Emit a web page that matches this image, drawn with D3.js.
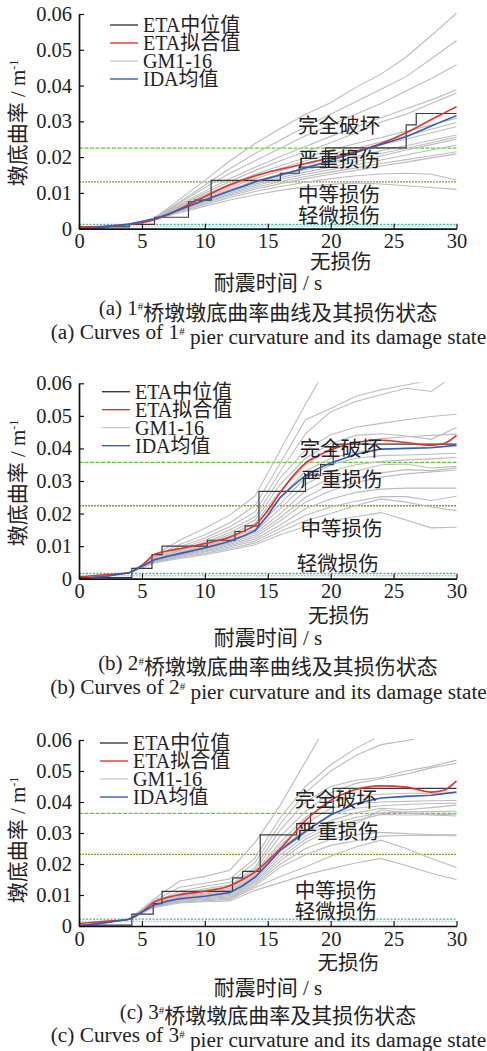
<!DOCTYPE html>
<html>
<head>
<meta charset="utf-8">
<script src="https://cdn.jsdelivr.net/npm/d3@7"></script>
<style>
  body { margin: 0; background: #fff; }
  text { font-family: "Liberation Serif", "Noto Sans CJK SC", serif; fill: #222; }
</style>
</head>
<body>
<div id="cont"></div>
<script>
// ---- data ----
var timeGrid = [0, 2, 4, 6, 8, 10, 12, 14, 16, 18, 20, 22, 24, 26, 28, 30];
var fitTime = [0, 2, 4, 5, 6, 7, 8, 10, 12, 13, 14, 15, 16, 17, 18, 19, 20, 22, 24, 26, 28, 29, 30];
var xTicks = [0, 5, 10, 15, 20, 25, 30];
var yTicks = [0, 0.01, 0.02, 0.03, 0.04, 0.05, 0.06];
var legendNames = ["ETA中位值", "ETA拟合值", "GM1-16", "IDA均值"];
var damageNames = ["完全破坏", "严重损伤", "中等损伤", "轻微损伤", "无损伤"];

// pier 1
var gm1 = [
  [0, 0.0004, 0.0012, 0.0030, 0.0082, 0.0135, 0.0190, 0.0238, 0.0280, 0.0320, 0.0352, 0.0395, 0.0432, 0.0480, 0.0540, 0.0602],
  [0, 0.0004, 0.0012, 0.0030, 0.0075, 0.0122, 0.0168, 0.0210, 0.0248, 0.0285, 0.0320, 0.0355, 0.0390, 0.0425, 0.0475, 0.0526],
  [0, 0.0004, 0.0012, 0.0029, 0.0072, 0.0115, 0.0155, 0.0190, 0.0225, 0.0260, 0.0290, 0.0320, 0.0350, 0.0385, 0.0420, 0.0458],
  [0, 0.0004, 0.0012, 0.0029, 0.0068, 0.0105, 0.0140, 0.0172, 0.0202, 0.0230, 0.0258, 0.0285, 0.0310, 0.0335, 0.0360, 0.0388],
  [0, 0.0004, 0.0012, 0.0028, 0.0065, 0.0100, 0.0132, 0.0163, 0.0190, 0.0215, 0.0240, 0.0268, 0.0298, 0.0320, 0.0350, 0.0379],
  [0, 0.0004, 0.0012, 0.0028, 0.0062, 0.0095, 0.0125, 0.0152, 0.0176, 0.0198, 0.0220, 0.0238, 0.0255, 0.0272, 0.0290, 0.0309],
  [0, 0.0004, 0.0012, 0.0028, 0.0060, 0.0090, 0.0120, 0.0145, 0.0168, 0.0190, 0.0208, 0.0225, 0.0242, 0.0260, 0.0278, 0.0297],
  [0, 0.0004, 0.0012, 0.0028, 0.0058, 0.0087, 0.0115, 0.0140, 0.0162, 0.0182, 0.0200, 0.0218, 0.0235, 0.0250, 0.0268, 0.0285],
  [0, 0.0004, 0.0012, 0.0027, 0.0056, 0.0084, 0.0110, 0.0133, 0.0153, 0.0170, 0.0186, 0.0202, 0.0218, 0.0232, 0.0247, 0.0262],
  [0, 0.0004, 0.0012, 0.0027, 0.0055, 0.0082, 0.0106, 0.0128, 0.0148, 0.0165, 0.0180, 0.0196, 0.0210, 0.0225, 0.0240, 0.0256],
  [0, 0.0004, 0.0012, 0.0027, 0.0054, 0.0080, 0.0103, 0.0124, 0.0143, 0.0158, 0.0172, 0.0187, 0.0203, 0.0220, 0.0235, 0.0250],
  [0, 0.0004, 0.0012, 0.0027, 0.0053, 0.0078, 0.0100, 0.0120, 0.0138, 0.0152, 0.0165, 0.0178, 0.0192, 0.0206, 0.0220, 0.0233],
  [0, 0.0004, 0.0012, 0.0026, 0.0052, 0.0075, 0.0096, 0.0115, 0.0132, 0.0146, 0.0158, 0.0170, 0.0182, 0.0193, 0.0204, 0.0215],
  [0, 0.0004, 0.0012, 0.0026, 0.0050, 0.0072, 0.0092, 0.0110, 0.0126, 0.0140, 0.0152, 0.0163, 0.0175, 0.0186, 0.0198, 0.0209],
  [0, 0.0004, 0.0012, 0.0026, 0.0048, 0.0068, 0.0087, 0.0104, 0.0118, 0.0130, 0.0140, 0.0148, 0.0153, 0.0155, 0.0152, 0.0136],
  [0, 0.0004, 0.0012, 0.0026, 0.0045, 0.0063, 0.0080, 0.0095, 0.0107, 0.0117, 0.0124, 0.0128, 0.0125, 0.0120, 0.0115, 0.0110]
];
var median1T = [0, 2, 4, 6, 8.7, 9.2, 10.5, 16, 17.5, 19.6, 26, 26.8, 30];
var median1V = [0.0002, 0.0005, 0.0012, 0.0032, 0.0075, 0.0080, 0.0135, 0.0155, 0.0172, 0.0226, 0.0290, 0.0322, 0.0322];
var fit1 = [0.0005, 0.0007, 0.0012, 0.0017, 0.0025, 0.0038, 0.0055, 0.0090, 0.0123, 0.0136, 0.0148, 0.0158, 0.0166, 0.0174, 0.0182, 0.0190, 0.0198, 0.0216, 0.0238, 0.0268, 0.0305, 0.0323, 0.0341];
var ida1 = [0.0001, 0.0005, 0.0013, 0.0020, 0.0028, 0.0040, 0.0053, 0.0080, 0.0106, 0.0118, 0.0131, 0.0141, 0.0150, 0.0160, 0.0170, 0.0180, 0.0191, 0.0213, 0.0235, 0.0257, 0.0287, 0.0302, 0.0316];
var limits1 = [0.0225, 0.0131, 0.0012, 0.0007];

// pier 2
var gm2 = [
  [0, 0.0007, 0.0018, 0.0072, 0.0118, 0.0155, 0.0196, 0.0254, 0.0395, 0.0536, 0.0670, null, null, null, null, null],
  [0, 0.0007, 0.0018, 0.0068, 0.0105, 0.0135, 0.0172, 0.0225, 0.0355, 0.0488, 0.0523, 0.0560, 0.0580, 0.0595, 0.0610, null],
  [0, 0.0007, 0.0018, 0.0065, 0.0098, 0.0125, 0.0160, 0.0205, 0.0330, 0.0445, 0.0513, 0.0544, 0.0565, 0.0585, 0.0575, 0.0630],
  [0, 0.0007, 0.0018, 0.0063, 0.0092, 0.0118, 0.0150, 0.0190, 0.0310, 0.0395, 0.0442, 0.0465, 0.0477, 0.0488, 0.0498, 0.0505],
  [0, 0.0007, 0.0018, 0.0060, 0.0088, 0.0112, 0.0142, 0.0180, 0.0290, 0.0370, 0.0415, 0.0440, 0.0445, 0.0438, 0.0428, 0.0464],
  [0, 0.0007, 0.0018, 0.0059, 0.0086, 0.0108, 0.0136, 0.0170, 0.0270, 0.0350, 0.0400, 0.0418, 0.0430, 0.0436, 0.0440, 0.0444],
  [0, 0.0007, 0.0018, 0.0058, 0.0082, 0.0104, 0.0130, 0.0160, 0.0250, 0.0330, 0.0370, 0.0390, 0.0398, 0.0402, 0.0404, 0.0406],
  [0, 0.0007, 0.0018, 0.0057, 0.0080, 0.0100, 0.0125, 0.0152, 0.0230, 0.0310, 0.0350, 0.0370, 0.0378, 0.0380, 0.0382, 0.0385],
  [0, 0.0007, 0.0018, 0.0056, 0.0078, 0.0097, 0.0120, 0.0146, 0.0215, 0.0290, 0.0330, 0.0350, 0.0360, 0.0365, 0.0368, 0.0372],
  [0, 0.0007, 0.0018, 0.0055, 0.0076, 0.0094, 0.0115, 0.0140, 0.0200, 0.0270, 0.0310, 0.0330, 0.0350, 0.0352, 0.0340, 0.0345],
  [0, 0.0007, 0.0018, 0.0054, 0.0074, 0.0091, 0.0110, 0.0134, 0.0188, 0.0250, 0.0290, 0.0310, 0.0325, 0.0335, 0.0332, 0.0340],
  [0, 0.0007, 0.0018, 0.0053, 0.0072, 0.0088, 0.0106, 0.0128, 0.0178, 0.0235, 0.0270, 0.0295, 0.0312, 0.0322, 0.0328, 0.0334],
  [0, 0.0007, 0.0018, 0.0052, 0.0070, 0.0085, 0.0102, 0.0122, 0.0165, 0.0215, 0.0245, 0.0265, 0.0275, 0.0278, 0.0278, 0.0278],
  [0, 0.0007, 0.0018, 0.0051, 0.0068, 0.0082, 0.0098, 0.0116, 0.0155, 0.0195, 0.0220, 0.0238, 0.0252, 0.0252, 0.0240, 0.0253],
  [0, 0.0007, 0.0018, 0.0050, 0.0065, 0.0078, 0.0093, 0.0110, 0.0145, 0.0178, 0.0200, 0.0225, 0.0245, 0.0235, 0.0220, 0.0209],
  [0, 0.0007, 0.0018, 0.0049, 0.0062, 0.0074, 0.0088, 0.0104, 0.0135, 0.0160, 0.0178, 0.0190, 0.0203, 0.0180, 0.0156, 0.0158]
];
var median2T = [0, 4.2, 5.8, 6.6, 10.2, 12.4, 13.2, 14.3, 18, 19.2, 20.2, 30];
var median2V = [0.0003, 0.0032, 0.0074, 0.0100, 0.0118, 0.0145, 0.0162, 0.0268, 0.0318, 0.0350, 0.0413, 0.0413];
var fit2 = [0.0005, 0.0012, 0.0019, 0.0040, 0.0075, 0.0085, 0.0092, 0.0108, 0.0128, 0.0145, 0.0165, 0.0210, 0.0265, 0.0315, 0.0355, 0.0378, 0.0395, 0.0418, 0.0425, 0.0418, 0.0410, 0.0415, 0.0440];
var ida2 = [0.0000, 0.0007, 0.0018, 0.0038, 0.0058, 0.0068, 0.0077, 0.0094, 0.0115, 0.0130, 0.0148, 0.0195, 0.0250, 0.0285, 0.0317, 0.0338, 0.0355, 0.0382, 0.0398, 0.0400, 0.0402, 0.0406, 0.0411];
var limits2 = [0.0357, 0.0224, 0.0016, 0.0009];

// pier 3
var gm3 = [
  [0, 0.0011, 0.0022, 0.0088, 0.0145, 0.0160, 0.0180, 0.0270, 0.0390, 0.0530, 0.0670, null, null, null, null, null],
  [0, 0.0011, 0.0022, 0.0082, 0.0125, 0.0138, 0.0152, 0.0220, 0.0350, 0.0450, 0.0520, 0.0573, 0.0615, null, null, null],
  [0, 0.0011, 0.0022, 0.0078, 0.0112, 0.0128, 0.0140, 0.0205, 0.0330, 0.0430, 0.0500, 0.0550, 0.0585, 0.0598, 0.0615, null],
  [0, 0.0011, 0.0022, 0.0076, 0.0105, 0.0120, 0.0132, 0.0190, 0.0310, 0.0400, 0.0450, 0.0470, 0.0480, 0.0500, 0.0515, 0.0535],
  [0, 0.0011, 0.0022, 0.0074, 0.0102, 0.0115, 0.0128, 0.0182, 0.0290, 0.0370, 0.0430, 0.0460, 0.0475, 0.0490, 0.0510, 0.0525],
  [0, 0.0011, 0.0022, 0.0072, 0.0098, 0.0110, 0.0122, 0.0175, 0.0270, 0.0350, 0.0400, 0.0420, 0.0425, 0.0428, 0.0428, 0.0428],
  [0, 0.0011, 0.0022, 0.0070, 0.0095, 0.0106, 0.0118, 0.0168, 0.0260, 0.0330, 0.0380, 0.0395, 0.0400, 0.0402, 0.0404, 0.0405],
  [0, 0.0011, 0.0022, 0.0069, 0.0092, 0.0103, 0.0114, 0.0162, 0.0250, 0.0310, 0.0360, 0.0380, 0.0388, 0.0392, 0.0395, 0.0396],
  [0, 0.0011, 0.0022, 0.0068, 0.0090, 0.0100, 0.0110, 0.0156, 0.0240, 0.0300, 0.0340, 0.0365, 0.0380, 0.0375, 0.0382, 0.0390],
  [0, 0.0011, 0.0022, 0.0067, 0.0088, 0.0097, 0.0106, 0.0150, 0.0230, 0.0290, 0.0330, 0.0350, 0.0365, 0.0368, 0.0369, 0.0370],
  [0, 0.0011, 0.0022, 0.0066, 0.0086, 0.0094, 0.0102, 0.0145, 0.0220, 0.0280, 0.0320, 0.0340, 0.0360, 0.0358, 0.0359, 0.0361],
  [0, 0.0011, 0.0022, 0.0065, 0.0084, 0.0091, 0.0098, 0.0140, 0.0210, 0.0270, 0.0310, 0.0330, 0.0375, 0.0365, 0.0358, 0.0355],
  [0, 0.0011, 0.0022, 0.0064, 0.0082, 0.0088, 0.0094, 0.0135, 0.0200, 0.0250, 0.0280, 0.0295, 0.0302, 0.0298, 0.0295, 0.0294],
  [0, 0.0011, 0.0022, 0.0063, 0.0080, 0.0085, 0.0090, 0.0130, 0.0190, 0.0230, 0.0260, 0.0275, 0.0290, 0.0292, 0.0292, 0.0291],
  [0, 0.0011, 0.0022, 0.0062, 0.0077, 0.0082, 0.0086, 0.0124, 0.0160, 0.0190, 0.0225, 0.0255, 0.0277, 0.0250, 0.0218, 0.0189],
  [0, 0.0011, 0.0022, 0.0060, 0.0074, 0.0078, 0.0081, 0.0115, 0.0140, 0.0165, 0.0185, 0.0203, 0.0218, 0.0195, 0.0170, 0.0150]
];
var median3T = [0, 4.2, 5.9, 6.6, 12.2, 13.0, 14.4, 17.3, 18.4, 20.2, 30];
var median3V = [0.0003, 0.0038, 0.0072, 0.0112, 0.0155, 0.0176, 0.0294, 0.0330, 0.0363, 0.0444, 0.0444];
var fit3 = [0.0008, 0.0015, 0.0022, 0.0045, 0.0078, 0.0092, 0.0101, 0.0112, 0.0130, 0.0150, 0.0175, 0.0210, 0.0250, 0.0295, 0.0340, 0.0375, 0.0405, 0.0440, 0.0452, 0.0448, 0.0432, 0.0438, 0.0468];
var ida3 = [0.0000, 0.0010, 0.0022, 0.0045, 0.0068, 0.0080, 0.0088, 0.0096, 0.0108, 0.0130, 0.0158, 0.0200, 0.0245, 0.0275, 0.0305, 0.0332, 0.0358, 0.0395, 0.0413, 0.0418, 0.0422, 0.0427, 0.0432];
var limits3 = [0.0363, 0.0231, 0.0022, 0.0015];

// ---- layout ----
var W = 487, H = 1051, left = 79, right = 456.5;
var panels = [
  { gm: gm1, medT: median1T, medV: median1V, fit: fit1, ida: ida1, lim: limits1,
    top: 14, bottom: 228.7, legX: 110, legY: 25, ylabY: 123,
    tag: "(a)", num: "1", cn: "桥墩墩底曲率曲线及其损伤状态",
    labels: [[17.4, 0.0287], [17.4, 0.0192], [17.4, 0.0094], [17.4, 0.0036], [20.8, -0.0093]],
    xtitleY: 283, capY: 308, capY2: 332 },
  { gm: gm2, medT: median2T, medV: median2V, fit: fit2, ida: ida2, lim: limits2,
    top: 383.3, bottom: 578.7, legX: 102, legY: 391.7, ylabY: 483,
    tag: "(b)", num: "2", cn: "桥墩墩底曲率曲线及其损伤状态",
    labels: [[17.55, 0.0400], [17.6, 0.0303], [17.6, 0.0152], [17.3, 0.0045], [20.65, -0.0114]],
    xtitleY: 637.5, capY: 662.5, capY2: 687 },
  { gm: gm3, medT: median3T, medV: median3V, fit: fit3, ida: ida3, lim: limits3,
    top: 740, bottom: 926, legX: 100, legY: 743, ylabY: 840,
    tag: "(c)", num: "3", cn: "桥墩墩底曲率及其损伤状态",
    labels: [[17.14, 0.0406], [17.3, 0.0304], [17.14, 0.0114], [17.14, 0.0046], [21.4, -0.0119]],
    xtitleY: 988, capY: 1011.5, capY2: 1035 }
];
var limitColors = ["#5ccc35", "#9c9436", "#3bb89c", "#7fd6e0"];
var limitDash = ["4,1.5", "2,1", "2,1.5", "1.5,1.5"];
var seriesColors = ["#3a3a3a", "#e8312b", "#bcbcbc", "#2d5fc0"];

var svg = d3.select("#cont").append("svg")
  .attr("width", W).attr("height", H)
  .style("display", "block");
svg.append("rect").attr("width", W).attr("height", H).attr("fill", "#fff");

panels.forEach(function(p, i) {
  var x = d3.scaleLinear().domain([0, 30]).range([left, right]);
  var y = d3.scaleLinear().domain([0, 0.06]).range([p.bottom, p.top]);
  var g = svg.append("g");

  var clipId = "clip" + i;
  svg.append("clipPath").attr("id", clipId).append("rect")
    .attr("x", left).attr("y", p.top - 1)
    .attr("width", right - left + 1).attr("height", p.bottom - p.top + 1);

  // damage limit lines
  g.selectAll("line.lim").data(p.lim).enter().append("line")
    .attr("x1", x(0)).attr("x2", x(30))
    .attr("y1", function(d) { return y(d); })
    .attr("y2", function(d) { return y(d); })
    .attr("stroke", function(d, k) { return limitColors[k]; })
    .attr("stroke-width", 1.3)
    .attr("stroke-dasharray", function(d, k) { return limitDash[k]; });

  var plot = g.append("g").attr("clip-path", "url(#" + clipId + ")");

  // GM1-16
  var gmLine = d3.line()
    .defined(function(d) { return d != null; })
    .x(function(d, k) { return x(timeGrid[k]); })
    .y(function(d) { return y(d); });
  plot.selectAll("path.gm").data(p.gm).enter().append("path")
    .attr("d", gmLine)
    .attr("fill", "none")
    .attr("stroke", seriesColors[2])
    .attr("stroke-width", 1.1);

  // ETA median (steps)
  var stepLine = d3.line().curve(d3.curveStepAfter)
    .x(function(d, k) { return x(p.medT[k]); })
    .y(function(d) { return y(d); });
  plot.append("path").datum(p.medV)
    .attr("d", stepLine)
    .attr("fill", "none")
    .attr("stroke", seriesColors[0])
    .attr("stroke-width", 1.2);

  // ETA fit
  var smooth = d3.line().curve(d3.curveMonotoneX)
    .x(function(d, k) { return x(fitTime[k]); })
    .y(function(d) { return y(d); });
  plot.append("path").datum(p.fit)
    .attr("d", smooth)
    .attr("fill", "none")
    .attr("stroke", seriesColors[1])
    .attr("stroke-width", 1.6);

  // IDA mean
  var idaLine = d3.line()
    .x(function(d, k) { return x(fitTime[k]); })
    .y(function(d) { return y(d); });
  plot.append("path").datum(p.ida)
    .attr("d", idaLine)
    .attr("fill", "none")
    .attr("stroke", seriesColors[3])
    .attr("stroke-width", 1.6);

  // axes
  var yAxis = d3.axisLeft(y).tickValues(yTicks).tickSize(-5).tickSizeOuter(0).tickPadding(7)
    .tickFormat(function(d) { return d === 0 ? "0" : d3.format(".2f")(d); });
  var xAxis = d3.axisBottom(x).tickValues(xTicks).tickSize(-5).tickSizeOuter(0).tickPadding(5);
  var ya = g.append("g").attr("transform", "translate(" + left + ",0)").call(yAxis);
  var xa = g.append("g").attr("transform", "translate(0," + p.bottom + ")").call(xAxis);
  [ya, xa].forEach(function(a) {
    a.attr("font-family", null).attr("font-size", null);
    a.select(".domain").attr("stroke", "#111").attr("stroke-width", 1.7);
    a.selectAll(".tick line").attr("stroke", "#111").attr("stroke-width", 1.2);
    a.selectAll(".tick text")
      .style("font-family", "'Liberation Serif', serif")
      .style("font-size", "20.5px").attr("fill", "#222");
  });

  // damage state labels
  g.selectAll("text.dmg").data(p.labels).enter().append("text")
    .attr("x", function(d) { return x(d[0]); })
    .attr("y", function(d) { return y(d[1]); })
    .attr("dy", "0.35em")
    .attr("text-anchor", function(d, k) { return k === 4 ? "middle" : "start"; })
    .style("font-size", "20.5px")
    .text(function(d, k) { return damageNames[k]; });

  // legend
  var leg = g.selectAll("g.leg").data(legendNames).enter().append("g")
    .attr("transform", function(d, k) { return "translate(" + p.legX + "," + (p.legY + k * 18) + ")"; });
  leg.append("line").attr("x1", 0).attr("x2", 28)
    .attr("stroke", function(d, k) { return seriesColors[k]; })
    .attr("stroke-width", function(d, k) { return k === 2 ? 1 : 1.4; });
  leg.append("text").attr("x", 33).attr("dy", "0.35em")
    .style("font-size", "20px")
    .text(function(d) { return d; });

  // y title
  var yt = g.append("text")
    .attr("transform", "translate(18," + p.ylabY + ") rotate(-90)")
    .attr("text-anchor", "middle").attr("dy", "0.35em")
    .style("font-size", "21px");
  yt.append("tspan").text("墩底曲率 / m");
  yt.append("tspan").attr("dy", "-0.6em").style("font-size", "12px").text("-1");

  // x title
  g.append("text").attr("x", 268).attr("y", p.xtitleY).attr("dy", "0.35em")
    .attr("text-anchor", "middle").style("font-size", "21px")
    .text("耐震时间 / s");

  // captions
  var c1 = g.append("text").attr("x", 268).attr("y", p.capY).attr("dy", "0.35em")
    .attr("text-anchor", "middle").style("font-size", "21px");
  c1.append("tspan").text(p.tag + " " + p.num);
  c1.append("tspan").attr("dy", "-0.45em").style("font-size", "11px").text("#");
  c1.append("tspan").attr("dy", "0.45em").text(p.cn);

  var c2 = g.append("text").attr("x", 268.5).attr("y", p.capY2).attr("dy", "0.35em")
    .attr("text-anchor", "middle").style("font-size", "21.3px");
  c2.append("tspan").text(p.tag + " Curves of " + p.num);
  c2.append("tspan").attr("dy", "-0.45em").style("font-size", "11px").text("#");
  c2.append("tspan").attr("dy", "0.45em").text(" pier curvature and its damage state");
});
</script>
</body>
</html>
